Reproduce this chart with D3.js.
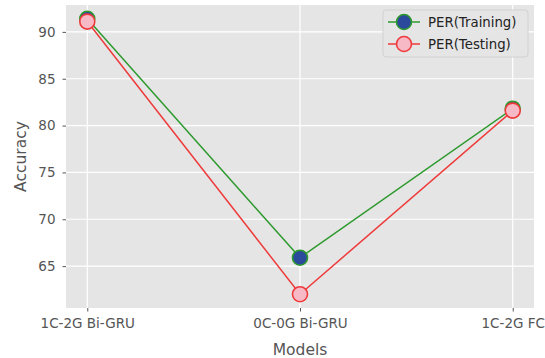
<!DOCTYPE html>
<html>
<head>
<meta charset="utf-8">
<script src="https://cdn.jsdelivr.net/npm/d3@7"></script>
<style>
  body { margin: 0; background: #fff; }
  text { font-family: "DejaVu Sans", sans-serif; }
</style>
</head>
<body>
<div id="chart"></div>
<script>
// chart data
const models = ["1C-2G Bi-GRU", "0C-0G Bi-GRU", "1C-2G FC"];
const training = [91.4, 65.9, 81.8];
const testing = [91.1, 62.0, 81.6];
const yTicks = [65, 70, 75, 80, 85, 90];
const seriesNames = ["PER(Training)", "PER(Testing)"];

const width = 545, height = 358;
const margin = {top: 5, right: 11, bottom: 50, left: 66};

const svg = d3.select("#chart").append("svg")
  .attr("width", width)
  .attr("height", height);

const x = d3.scaleLinear()
  .domain([-0.1, models.length - 1 + 0.1])
  .range([margin.left, width - margin.right]);

let allVals = training.concat(testing);
let lo = d3.min(allVals), hi = d3.max(allVals);
let pad = (hi - lo) * 0.05;
const y = d3.scaleLinear()
  .domain([lo - pad, hi + pad])
  .range([height - margin.bottom, margin.top]);

// background
svg.append("rect")
  .attr("x", margin.left)
  .attr("y", margin.top)
  .attr("width", width - margin.left - margin.right)
  .attr("height", height - margin.top - margin.bottom)
  .attr("fill", "#e5e5e5");

// grid
svg.append("g").selectAll("line").data(yTicks).join("line")
  .attr("x1", margin.left).attr("x2", width - margin.right)
  .attr("y1", d => y(d)).attr("y2", d => y(d))
  .attr("stroke", "#fff").attr("stroke-width", 1.2);
svg.append("g").selectAll("line").data(models).join("line")
  .attr("x1", (d, i) => x(i)).attr("x2", (d, i) => x(i))
  .attr("y1", margin.top).attr("y2", height - margin.bottom)
  .attr("stroke", "#fff").attr("stroke-width", 1.2);

// axes
let xAxis = d3.axisBottom(x)
  .tickValues(d3.range(models.length))
  .tickFormat(i => models[i])
  .tickSize(3.5).tickPadding(7);
let yAxis = d3.axisLeft(y)
  .tickValues(yTicks)
  .tickSize(3.5).tickPadding(7);

let gx = svg.append("g")
  .attr("transform", "translate(0," + (height - margin.bottom) + ")")
  .call(xAxis);
let gy = svg.append("g")
  .attr("transform", "translate(" + margin.left + ",0)")
  .call(yAxis);

[gx, gy].forEach(g => {
  g.select(".domain").remove();
  g.selectAll(".tick line").attr("stroke", "#555").attr("stroke-width", 1);
  g.selectAll(".tick text")
    .attr("fill", "#555")
    .style("font-size", "13.5px")
    .style("font-family", "DejaVu Sans, sans-serif");
});

// axis labels
svg.append("text")
  .attr("x", (margin.left + width - margin.right) / 2)
  .attr("y", height - 3)
  .attr("text-anchor", "middle")
  .attr("fill", "#555")
  .style("font-size", "15.5px")
  .text("Models");
svg.append("text")
  .attr("transform", "translate(26," + ((margin.top + height - margin.bottom) / 2) + ") rotate(-90)")
  .attr("text-anchor", "middle")
  .attr("fill", "#555")
  .style("font-size", "15.5px")
  .text("Accuracy");

// series
const series = [
  {name: seriesNames[0], values: training, line: "#2e9a2e", fill: "#2b4a9c", edge: "#2e9a2e"},
  {name: seriesNames[1], values: testing, line: "#ee3a3a", fill: "#f8b9c6", edge: "#ee3a3a"}
];

let line = d3.line()
  .x((d, i) => x(i))
  .y(d => y(d));

series.forEach(s => {
  svg.append("path")
    .datum(s.values)
    .attr("d", line)
    .attr("fill", "none")
    .attr("stroke", s.line)
    .attr("stroke-width", 1.5);
  svg.append("g").selectAll("circle").data(s.values).join("circle")
    .attr("cx", (d, i) => x(i))
    .attr("cy", d => y(d))
    .attr("r", 7.5)
    .attr("fill", s.fill)
    .attr("stroke", s.edge)
    .attr("stroke-width", 1.6);
});

// legend
let lg = svg.append("g").attr("transform", "translate(383,10)");
lg.append("rect")
  .attr("width", 145).attr("height", 47)
  .attr("rx", 3)
  .attr("fill", "#e5e5e5")
  .attr("stroke", "#d0d0d0")
  .attr("opacity", 0.9);
series.forEach((s, i) => {
  let row = lg.append("g").attr("transform", "translate(0," + (12 + i * 22) + ")");
  row.append("line")
    .attr("x1", 5).attr("x2", 37)
    .attr("stroke", s.line).attr("stroke-width", 1.5);
  row.append("circle")
    .attr("cx", 21).attr("r", 7.5)
    .attr("fill", s.fill).attr("stroke", s.edge).attr("stroke-width", 1.6);
  row.append("text")
    .attr("x", 45).attr("y", 5)
    .attr("fill", "#222")
    .style("font-size", "13.3px")
    .text(s.name);
});
</script>
</body>
</html>
